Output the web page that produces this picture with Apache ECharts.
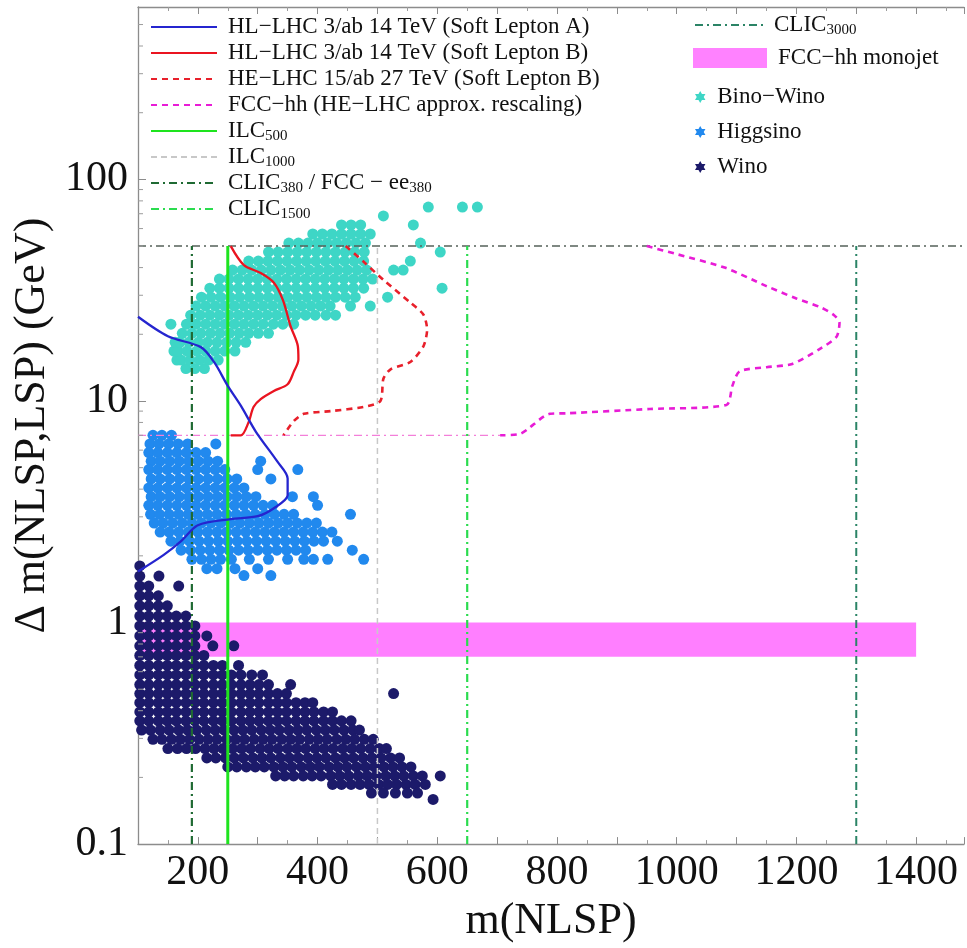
<!DOCTYPE html>
<html>
<head>
<meta charset="utf-8">
<script src="https://cdn.jsdelivr.net/npm/echarts@6/dist/echarts.min.js"></script>
<style>
  html, body { margin: 0; padding: 0; background: #fff; }
  #chart { width: 967px; height: 948px; }
</style>
</head>
<body>
<div id="chart"></div>
<script>
// axis ranges and tick labels
const xRange = [100, 1480];
const yRange = [0.1, 600];
const xTickLabels = [200, 400, 600, 800, 1000, 1200, 1400];
const yTickLabels = [0.1, 1, 10, 100];
const yMinorTicks = [0.2, 0.3, 0.4, 0.5, 0.6, 0.7, 0.8, 0.9, 2, 3, 4, 5, 6, 7, 8, 9,
  20, 30, 40, 50, 60, 70, 80, 90, 200, 300, 400, 500];

// reach curves [m(NLSP), Δm]
const softLeptonA = [[100, 24], [150, 19.6], [205, 17.5], [227, 15], [250, 11.7], [272, 9.5], [297, 7.26],
  [333, 5.32], [350, 4.47], [350, 3.75], [327, 3.28], [300, 3.02], [255, 2.93], [200, 2.75], [172, 2.33],
  [143, 2.02], [100, 1.7]];
const softLeptonB = [[255, 50], [277, 41], [305, 37.8], [327, 34.2], [342, 28.6], [355, 21.7], [367, 17.7],
  [368, 15.4], [360, 13.5], [350, 11.9], [327, 11.1], [305, 10.2], [293, 9.4], [285, 8.05], [272, 7], [255, 7]];
const heLhc = [[447, 50], [477, 42.5], [510, 35.2], [555, 27.8], [577, 24.5], [583, 21], [577, 17.7], [555, 15],
  [522, 13.9], [510, 12.6], [505, 10], [477, 9.4], [422, 9.0], [377, 8.75], [360, 8.1], [343, 7]];
const fccHh = [[950, 50], [1000, 46], [1080, 40], [1150, 33], [1200, 29], [1240, 26.5], [1262, 24.5], [1272, 22.6],
  [1267, 19.5], [1238, 17.1], [1193, 14.7], [1150, 14.2], [1105, 13.6], [1093, 11.7], [1083, 9.6], [955, 9.2],
  [817, 8.8], [788, 8.75], [738, 7.1], [705, 7]];
const lowCut = [[100, 7], [705, 7]];
const highCut = [[100, 50], [1480, 50]];

// lepton collider thresholds (vertical lines)
const ilc500 = [[250, 0.1], [250, 50]];
const ilc1000 = [[500, 0.1], [500, 50]];
const clic380 = [[190, 0.1], [190, 50]];
const clic1500 = [[650, 0.1], [650, 50]];
const clic3000 = [[1300, 0.1], [1300, 50]];

// FCC-hh monojet band
const monojetM = [100, 1400];
const monojetDm = [0.7, 1.0];

// scan points, rows of [Δm, [m(NLSP) ...]]
const binoWinoRows = [
  [14.0, [180, 195, 211]],
  [15.3, [165, 172, 187, 203, 218, 234]],
  [16.8, [160, 167, 182, 198, 213, 229, 245, 262]],
  [18.4, [162, 170, 185, 201, 216, 232, 248, 264, 280]],
  [20.2, [174, 190, 205, 221, 237, 253, 269, 285, 301, 318]],
  [22.2, [155, 181, 197, 213, 229, 245, 261, 277, 293, 309, 326, 342, 360]],
  [24.4, [188, 204, 220, 236, 252, 268, 284, 300, 316, 332, 348, 364, 380, 396, 414, 430]],
  [26.8, [197, 213, 229, 245, 261, 277, 293, 309, 325, 341, 357, 373, 389, 405, 421, 455, 488]],
  [29.4, [206, 222, 238, 254, 270, 286, 302, 318, 334, 350, 366, 382, 398, 414, 430, 446, 463, 517]],
  [32.3, [220, 236, 252, 268, 284, 300, 316, 332, 348, 364, 380, 396, 412, 428, 444, 460, 477, 608]],
  [35.5, [236, 252, 268, 284, 300, 316, 332, 348, 364, 380, 396, 412, 428, 444, 460, 476, 492]],
  [39.0, [258, 274, 290, 306, 322, 338, 354, 370, 386, 402, 418, 434, 450, 466, 482, 527, 543]],
  [42.8, [285, 301, 317, 333, 349, 365, 381, 397, 413, 429, 445, 461, 477, 555]],
  [47.0, [318, 334, 350, 366, 382, 398, 414, 430, 446, 462, 478, 605]],
  [51.6, [352, 368, 384, 400, 416, 432, 448, 464, 480, 572]],
  [56.7, [392, 408, 424, 440, 456, 472, 488]],
  [62.3, [440, 456, 472, 560]],
  [68.4, [510]],
  [75.0, [585, 642, 667]]
];
const higgsinoRows = [
  [7.0, [125, 140, 156]],
  [6.4, [120, 135, 151, 167, 183, 230]],
  [5.85, [118, 133, 149, 165, 181, 197, 213]],
  [5.35, [122, 137, 153, 169, 185, 201, 217, 233, 305]],
  [4.9, [118, 133, 149, 165, 181, 197, 213, 229, 245, 300, 367]],
  [4.45, [122, 137, 153, 169, 185, 201, 217, 233, 249, 265, 322]],
  [4.05, [118, 133, 149, 165, 181, 197, 213, 229, 245, 261, 277]],
  [3.7, [122, 137, 153, 169, 185, 201, 217, 233, 249, 265, 281, 297, 358, 393]],
  [3.38, [118, 133, 149, 165, 181, 197, 213, 229, 245, 261, 277, 293, 309, 325, 400]],
  [3.08, [121, 136, 152, 168, 184, 200, 216, 232, 248, 264, 280, 296, 312, 328, 344, 360, 455]],
  [2.81, [127, 142, 158, 174, 190, 206, 222, 238, 254, 270, 286, 302, 318, 334, 350, 366, 382, 398]],
  [2.56, [137, 152, 168, 184, 200, 216, 232, 248, 264, 280, 296, 312, 328, 344, 360, 376, 392, 408, 424]],
  [2.33, [155, 170, 186, 202, 218, 234, 250, 266, 282, 298, 314, 330, 346, 362, 378, 394, 410, 433]],
  [2.12, [172, 188, 204, 220, 236, 252, 268, 284, 300, 316, 332, 348, 364, 380, 458]],
  [1.93, [190, 206, 222, 238, 256, 286, 318, 350, 377, 393, 417, 477]],
  [1.75, [215, 232, 262, 300]],
  [1.63, [277, 322]]
];
const winoRows = [
  [1.8, [103]],
  [1.62, [103, 135]],
  [1.46, [103, 118, 168]],
  [1.32, [103, 118, 134]],
  [1.19, [103, 118, 134, 149]],
  [1.07, [103, 118, 134, 149, 164, 180]],
  [0.965, [103, 118, 134, 149, 164, 180, 195]],
  [0.87, [103, 118, 134, 149, 164, 180, 195, 215]],
  [0.785, [103, 118, 134, 149, 164, 180, 195, 225, 260]],
  [0.71, [103, 118, 134, 149, 164, 180, 195, 210]],
  [0.64, [103, 118, 134, 149, 164, 180, 195, 210, 226, 241, 268]],
  [0.58, [103, 118, 134, 149, 164, 180, 195, 210, 226, 241, 256, 272, 290, 308]],
  [0.525, [103, 118, 134, 149, 164, 180, 195, 210, 226, 241, 256, 272, 287, 302, 318, 355]],
  [0.478, [103, 118, 134, 149, 164, 180, 195, 210, 226, 241, 256, 272, 287, 302, 318, 333, 348, 527]],
  [0.435, [103, 118, 134, 149, 164, 180, 195, 210, 226, 241, 256, 272, 287, 302, 318, 333, 348, 364, 379, 392]],
  [0.395, [103, 118, 134, 149, 164, 180, 195, 210, 226, 241, 256, 272, 287, 302, 318, 333, 348, 364, 379, 394, 410, 425]],
  [0.36, [103, 118, 134, 149, 164, 180, 195, 210, 226, 241, 256, 272, 287, 302, 318, 333, 348, 364, 379, 394, 410, 425, 440, 456]],
  [0.327, [106, 121, 137, 152, 168, 183, 198, 214, 229, 244, 260, 275, 290, 306, 321, 336, 352, 367, 382, 398, 413, 428, 444, 459, 470]],
  [0.297, [125, 140, 156, 171, 186, 202, 217, 232, 248, 263, 278, 294, 309, 324, 340, 355, 370, 386, 401, 416, 432, 447, 462, 478, 493]],
  [0.27, [150, 166, 181, 196, 212, 227, 242, 258, 273, 288, 304, 319, 334, 350, 365, 380, 396, 411, 426, 442, 457, 472, 488, 503, 515]],
  [0.245, [215, 230, 246, 261, 276, 292, 307, 322, 338, 353, 368, 384, 399, 414, 430, 445, 460, 476, 491, 506, 522, 537]],
  [0.223, [250, 265, 281, 296, 311, 327, 342, 357, 373, 388, 403, 419, 434, 449, 465, 480, 495, 511, 526, 541, 556]],
  [0.203, [330, 345, 360, 376, 391, 406, 422, 437, 452, 468, 483, 498, 514, 529, 544, 560, 575, 605]],
  [0.186, [425, 440, 456, 471, 486, 502, 517, 532, 548, 563, 580]],
  [0.17, [490, 510, 530, 550, 567]],
  [0.159, [593]]
];

function rowsToPoints(rows) {
  const pts = [];
  rows.forEach(([dm, ms]) => ms.forEach(m => pts.push([m, dm])));
  return pts;
}

const FONT = 'Liberation Serif';
const STAR = 'path://M0,-10 L2.9,-5 L8.7,-5 L5.8,0 L8.7,5 L2.9,5 L0,10 L-2.9,5 L-8.7,5 L-5.8,0 L-8.7,-5 L-2.9,-5 Z';
const AXIS_GREY = '#8c8c8c';

// legend labels with subscripts
const legendLabels = {
  'ILC500': 'ILC{s|500}',
  'ILC1000': 'ILC{s|1000}',
  'CLIC380 / FCC − ee380': 'CLIC{s|380} / FCC − ee{s|380}',
  'CLIC1500': 'CLIC{s|1500}',
  'CLIC3000': 'CLIC{s|3000}'
};
const legendText = {
  fontFamily: FONT, fontSize: 23, color: '#111', lineHeight: 26,
  rich: {
    s: { fontFamily: FONT, fontSize: 15, color: '#111', lineHeight: 26, verticalAlign: 'bottom' },
    g: { width: 6 }
  }
};
const legendFmt = name => '{g| }' + (legendLabels[name] || name);
const legendBase = { orient: 'vertical', padding: 0, selectedMode: false, textStyle: legendText, formatter: legendFmt };

function lineSeries(name, data, color, width, type, smooth) {
  return {
    name, type: 'line', data, symbol: 'none', smooth: smooth || false, z: 4,
    itemStyle: { color },
    lineStyle: { color, width, type: type || 'solid' },
    emphasis: { disabled: true }, silent: true
  };
}
function scatterSeries(name, rows, color) {
  return {
    name, type: 'scatter', data: rowsToPoints(rows), symbol: 'circle', symbolSize: 11,
    itemStyle: { color, opacity: 1 }, z: 1, silent: true
  };
}
const DASHDOT = [8, 4, 2, 4];

const chart = echarts.init(document.getElementById('chart'));
chart.setOption({
  animation: false,
  grid: { left: 138, right: 1, top: 7, bottom: 100 },
  xAxis: [{
    type: 'value', min: xRange[0], max: xRange[1], interval: 100,
    name: 'm(NLSP)', nameLocation: 'middle', nameGap: 50,
    nameTextStyle: { fontFamily: FONT, fontSize: 44, color: '#111' },
    axisLine: { show: true, lineStyle: { color: AXIS_GREY, width: 1.3 } },
    axisTick: { show: true, inside: true, length: 7, lineStyle: { color: AXIS_GREY } },
    minorTick: { show: true, splitNumber: 2, length: 4, lineStyle: { color: '#9c9c9c' } },
    axisLabel: {
      fontFamily: FONT, fontSize: 42, color: '#111', margin: 8,
      formatter: v => xTickLabels.includes(v) ? String(v) : ''
    },
    splitLine: { show: false }
  }, {
    type: 'value', min: xRange[0], max: xRange[1], interval: 100, position: 'top',
    axisLine: { show: true, lineStyle: { color: AXIS_GREY, width: 1.3 } },
    axisTick: { show: true, inside: true, length: 7, lineStyle: { color: AXIS_GREY } },
    minorTick: { show: true, splitNumber: 2, length: 4, lineStyle: { color: '#9c9c9c' } },
    axisLabel: { show: false },
    splitLine: { show: false }
  }],
  yAxis: {
    type: 'log', logBase: 10, min: yRange[0], max: yRange[1],
    name: 'Δ m(NLSP,LSP) (GeV)', nameLocation: 'middle', nameGap: 84,
    nameTextStyle: { fontFamily: FONT, fontSize: 44, color: '#111' },
    axisLine: { show: true, lineStyle: { color: AXIS_GREY, width: 1.3 } },
    axisTick: { show: true, inside: true, length: 8, lineStyle: { color: AXIS_GREY } },
    minorTick: { show: false },
    axisLabel: {
      fontFamily: FONT, fontSize: 42, color: '#111', margin: 10,
      showMaxLabel: false,
      formatter: v => {
        const hit = yTickLabels.find(t => Math.abs(t - v) / t < 1e-6);
        return hit === undefined ? '' : String(hit);
      }
    },
    splitLine: { show: false }
  },
  legend: [
    Object.assign({}, legendBase, {
      left: 150, top: 14, itemWidth: 66, itemHeight: 14, itemGap: 0,
      itemStyle: { opacity: 0 },
      data: ['HL−LHC 3/ab 14 TeV (Soft Lepton A)', 'HL−LHC 3/ab 14 TeV (Soft Lepton B)',
        'HE−LHC 15/ab 27 TeV (Soft Lepton B)', 'FCC−hh (HE−LHC approx. rescaling)',
        'ILC500', 'ILC1000', 'CLIC380 / FCC − ee380', 'CLIC1500']
    }),
    Object.assign({}, legendBase, {
      left: 694, top: 12, itemWidth: 68, itemHeight: 14,
      itemStyle: { opacity: 0 },
      data: ['CLIC3000']
    }),
    Object.assign({}, legendBase, {
      left: 693, top: 45, itemWidth: 74, itemHeight: 20,
      data: [{ name: 'FCC−hh monojet', icon: 'rect' }]
    }),
    Object.assign({}, legendBase, {
      left: 695, top: 84, itemWidth: 12, itemHeight: 12, itemGap: 9,
      data: [{ name: 'Bino−Wino', icon: STAR }, { name: 'Higgsino', icon: STAR }, { name: 'Wino', icon: STAR }]
    })
  ],
  series: [
    scatterSeries('Wino', winoRows, '#1c1a6a'),
    scatterSeries('Higgsino', higgsinoRows, '#2189ee'),
    scatterSeries('Bino−Wino', binoWinoRows, '#3ed6c6'),
    {
      name: 'FCC−hh monojet', type: 'line', data: [], z: 3,
      itemStyle: { color: '#ff82ff' },
      markArea: {
        silent: true,
        itemStyle: { color: 'rgba(255, 0, 255, 0.5)' },
        data: [[{ coord: [monojetM[0], monojetDm[1]] }, { coord: [monojetM[1], monojetDm[0]] }]]
      }
    },
    {
      // minor ticks of the log axis at 2..9 × 10^n
      type: 'custom', silent: true, z: 5, clip: false,
      data: yMinorTicks.map(v => [xRange[0], v]),
      renderItem: (params, api) => {
        const p = api.coord([api.value(0), api.value(1)]);
        return {
          type: 'line',
          shape: { x1: p[0], y1: p[1], x2: p[0] + 5, y2: p[1] },
          style: { stroke: '#9c9c9c', lineWidth: 1 }
        };
      }
    },
    lineSeries('', highCut, '#56625a', 1.5, DASHDOT),
    lineSeries('', lowCut, '#f37fd9', 1.3, DASHDOT),
    lineSeries('ILC1000', ilc1000, '#c8c8c8', 1.5, [6, 4]),
    lineSeries('CLIC380 / FCC − ee380', clic380, '#1f6a33', 2.2, DASHDOT),
    lineSeries('CLIC1500', clic1500, '#2bdc4f', 2.2, DASHDOT),
    lineSeries('CLIC3000', clic3000, '#2b8466', 2, DASHDOT),
    lineSeries('ILC500', ilc500, '#1ee41e', 3),
    lineSeries('FCC−hh (HE−LHC approx. rescaling)', fccHh, '#e81cd6', 2.6, [6, 5], 0.25),
    lineSeries('HE−LHC 15/ab 27 TeV (Soft Lepton B)', heLhc, '#e8202b', 2.6, [6, 5], 0.25),
    lineSeries('HL−LHC 3/ab 14 TeV (Soft Lepton B)', softLeptonB, '#ea1420', 2.3, 'solid', 0.3),
    lineSeries('HL−LHC 3/ab 14 TeV (Soft Lepton A)', softLeptonA, '#2525cf', 2.3, 'solid', 0.3)
  ]
});
</script>
</body>
</html>
